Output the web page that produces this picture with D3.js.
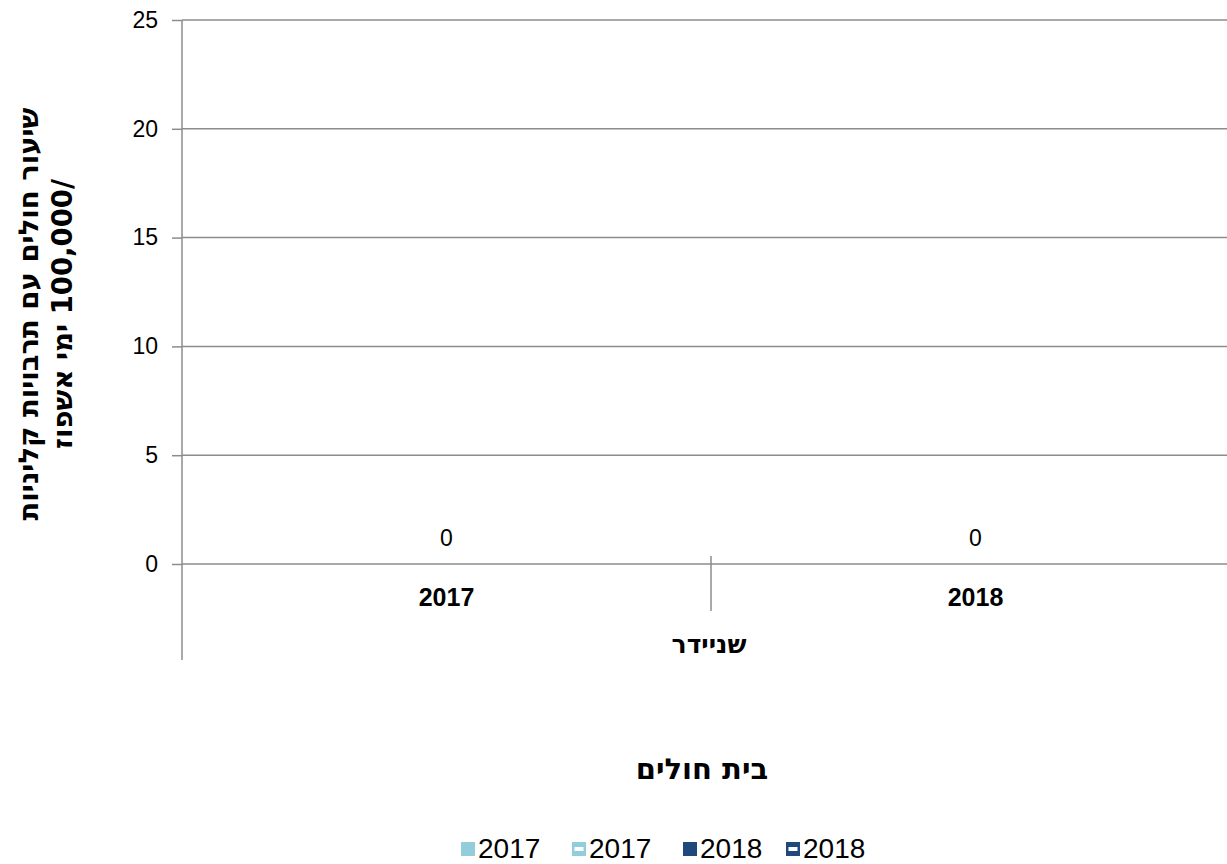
<!DOCTYPE html>
<html>
<head>
<meta charset="utf-8">
<script src="https://cdn.jsdelivr.net/npm/d3@7/dist/d3.min.js"></script>
<style>
  html, body { margin: 0; padding: 0; background: #fff; }
  svg { display: block; font-family: "Liberation Sans", Arial, sans-serif; }
  .heb { font-family: "DejaVu Sans", sans-serif; font-weight: bold; }
</style>
</head>
<body>
<svg id="chart" width="1227" height="864"></svg>
<script>
(function () {
// ---- data ----
const categories = ["2017", "2018"];
const groupLabel = "שניידר";
const values = [0, 0];
const yTicks = [0, 5, 10, 15, 20, 25];
const legendLabels = ["2017", "2017", "2018", "2018"];
const legendColors = ["#92CDDC", "#92CDDC", "#1F497D", "#1F497D"];
const legendPatterned = [false, true, false, true];
const yTitleLines = ["שיעור חולים עם תרבויות קליניות", "/100,000 ימי אשפוז"];
const xTitle = "בית חולים";

// ---- layout ----
const svg = d3.select("#chart");
const pLeft = 182, pRight = 1240, pTop = 20, pBottom = 564;
const gridColor = "#8C8C8C";

const x = d3.scaleBand().domain(categories).range([pLeft, pRight]);
const y = d3.scaleLinear().domain([0, 25]).range([pBottom, pTop]);

// gridlines
svg.append("g").selectAll("line").data(yTicks).join("line")
  .attr("x1", pLeft).attr("x2", 1227)
  .attr("y1", d => y(d)).attr("y2", d => y(d))
  .attr("stroke", gridColor).attr("stroke-width", 1.5);

// y ticks
const yAxis = d3.axisLeft(y).tickValues(yTicks).tickSize(10).tickPadding(14).tickFormat(d3.format("d"));
const gy = svg.append("g").attr("transform", `translate(${pLeft},0)`).call(yAxis);
gy.select(".domain").remove();
gy.selectAll(".tick line").attr("stroke", gridColor).attr("stroke-width", 1.5);
gy.selectAll(".tick text").attr("font-size", 23).attr("fill", "#000")
  .attr("font-family", "'Liberation Sans', Arial, sans-serif");

// y axis line (extends through multi-level category area)
svg.append("line").attr("x1", pLeft).attr("x2", pLeft).attr("y1", pTop).attr("y2", 660)
  .attr("stroke", gridColor).attr("stroke-width", 1.5);

// category dividers
const dividers = categories.slice(1).map(c => x(c));
svg.append("g").selectAll("line").data(dividers).join("line")
  .attr("x1", d => d).attr("x2", d => d).attr("y1", 556).attr("y2", 611)
  .attr("stroke", gridColor).attr("stroke-width", 1.5);

// bars (zero height) and data labels
svg.append("g").selectAll("rect").data(categories).join("rect")
  .attr("x", d => x(d) + x.bandwidth() * 0.3)
  .attr("width", x.bandwidth() * 0.4)
  .attr("y", (d, i) => y(values[i]))
  .attr("height", (d, i) => y(0) - y(values[i]))
  .attr("fill", legendColors[0]);

svg.append("g").selectAll("text").data(categories).join("text")
  .attr("x", d => x(d) + x.bandwidth() / 2)
  .attr("y", (d, i) => y(values[i]) - 18)
  .attr("text-anchor", "middle").attr("font-size", 23).attr("fill", "#000")
  .text((d, i) => values[i]);

// category labels
svg.append("g").selectAll("text").data(categories).join("text")
  .attr("x", d => x(d) + x.bandwidth() / 2)
  .attr("y", 606)
  .attr("text-anchor", "middle").attr("font-size", 25).attr("font-weight", "bold")
  .text(d => d);

// group label
svg.append("text").attr("class", "heb")
  .attr("x", (pLeft + pRight) / 2 - 2).attr("y", 653)
  .attr("text-anchor", "middle").attr("font-size", 25)
  .attr("direction", "rtl")
  .text(groupLabel);

// x title
svg.append("text").attr("class", "heb")
  .attr("x", 702).attr("y", 779)
  .attr("text-anchor", "middle").attr("font-size", 29)
  .attr("direction", "rtl")
  .text(xTitle);

// y title
const titleX = [28, 62];
yTitleLines.forEach((t, i) => {
  svg.append("text").attr("class", "heb")
    .attr("transform", `translate(${titleX[i]},314) rotate(-90)`)
    .attr("y", 10)
    .attr("text-anchor", "middle").attr("font-size", 27.5)
    .attr("direction", "rtl")
    .text(t);
});

// legend
const legendX = [461, 572, 683, 786];
const lg = svg.append("g");
legendLabels.forEach((lab, i) => {
  const g = lg.append("g").attr("transform", `translate(${legendX[i]},842)`);
  g.append("rect").attr("width", 14).attr("height", 14).attr("fill", legendColors[i]);
  if (legendPatterned[i]) {
    g.append("rect").attr("x", 2.5).attr("y", 5).attr("width", 9).attr("height", 4).attr("fill", "#fff");
  }
  g.append("text").attr("x", 17).attr("y", 16).attr("font-size", 28).attr("fill", "#000").text(lab);
});
})();
</script>
</body>
</html>
